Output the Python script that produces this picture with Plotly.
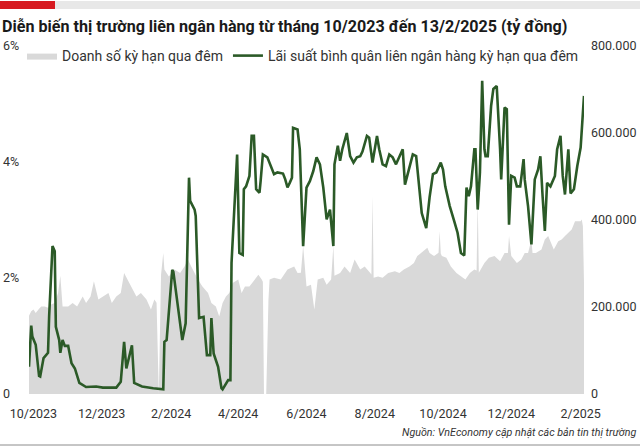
import plotly.graph_objects as go

# ---- Data ----
vol_dates = ["2023-09-27","2023-09-29","2023-10-01","2023-10-03","2023-10-06","2023-10-08","2023-10-11","2023-10-14",
    "2023-10-16","2023-10-20","2023-10-23","2023-10-25","2023-10-27","2023-11-01","2023-11-05","2023-11-09",
    "2023-11-14","2023-11-17","2023-11-21","2023-11-24","2023-11-28","2023-12-02","2023-12-07","2023-12-10",
    "2023-12-14","2023-12-18","2023-12-21","2023-12-24","2023-12-27","2024-01-01","2024-01-05","2024-01-10",
    "2024-01-14","2024-01-17","2024-01-19","2024-01-21","2024-01-23","2024-01-25","2024-01-26","2024-01-30",
    "2024-02-04","2024-02-09","2024-02-13","2024-02-16","2024-02-19","2024-02-22","2024-02-25","2024-02-29",
    "2024-03-05","2024-03-08","2024-03-12","2024-03-15","2024-03-18","2024-03-21","2024-03-24","2024-03-27",
    "2024-04-01","2024-04-04","2024-04-07","2024-04-11","2024-04-16","2024-04-19","2024-04-22","2024-04-23",
    "2024-04-24","2024-04-26","2024-04-28","2024-04-29","2024-05-03","2024-05-09","2024-05-15","2024-05-21",
    "2024-05-24","2024-05-27","2024-05-29","2024-06-01","2024-06-05","2024-06-08","2024-06-11","2024-06-16",
    "2024-06-19","2024-06-23","2024-06-25","2024-06-26","2024-07-01","2024-07-05","2024-07-10","2024-07-14",
    "2024-07-19","2024-07-23","2024-07-28","2024-07-29","2024-07-30","2024-07-31","2024-08-04","2024-08-08",
    "2024-08-13","2024-08-19","2024-08-23","2024-08-27","2024-09-01","2024-09-05","2024-09-08","2024-09-13",
    "2024-09-17","2024-09-19","2024-09-23","2024-09-27","2024-09-28","2024-09-29","2024-09-30","2024-10-04",
    "2024-10-08","2024-10-13","2024-10-17","2024-10-21","2024-10-25","2024-10-29","2024-10-31","2024-11-01",
    "2024-11-02","2024-11-07","2024-11-11","2024-11-16","2024-11-21","2024-11-25","2024-11-28","2024-11-29",
    "2024-12-01","2024-12-06","2024-12-10","2024-12-13","2024-12-16","2024-12-19","2024-12-20","2024-12-23",
    "2024-12-28","2024-12-31","2025-01-03","2025-01-08","2025-01-12","2025-01-15","2025-01-18","2025-01-21",
    "2025-01-24","2025-01-27","2025-02-01","2025-02-02","2025-02-03","2025-02-04"]
vol_values = [180000,190000,194000,186000,196000,201000,201000,198000,
    205000,209000,232000,272000,201000,201000,209000,201000,
    224000,209000,224000,259000,217000,224000,232000,209000,
    224000,232000,278000,263000,247000,224000,232000,217000,
    194000,217000,210000,0,274000,324000,286000,270000,
    286000,278000,293000,309000,293000,278000,263000,247000,
    232000,209000,201000,178000,209000,224000,232000,255000,
    263000,232000,247000,247000,263000,274000,263000,258000,
    0,0,217000,263000,267000,263000,286000,293000,
    278000,279000,340000,247000,251000,194000,263000,267000,
    251000,263000,340000,272000,278000,293000,278000,309000,
    286000,293000,278000,275000,455000,267000,270000,267000,
    278000,282000,278000,286000,293000,301000,317000,328000,
    336000,324000,317000,325000,374000,323000,317000,313000,
    293000,278000,270000,263000,278000,286000,284000,447000,
    279000,301000,313000,317000,305000,324000,324000,363000,
    317000,301000,309000,324000,324000,355000,324000,324000,
    332000,355000,363000,332000,351000,355000,363000,370000,
    378000,397000,397000,401000,386000,256000]

rate_dates = ["2023-09-27","2023-09-29","2023-09-30","2023-10-03","2023-10-06","2023-10-07","2023-10-10","2023-10-12",
    "2023-10-14","2023-10-15","2023-10-18","2023-10-20","2023-10-21","2023-10-24","2023-10-25","2023-10-27",
    "2023-10-29","2023-11-01","2023-11-04","2023-11-07","2023-11-11","2023-11-17","2023-11-26","2023-12-02",
    "2023-12-14","2023-12-18","2023-12-21","2023-12-23","2023-12-28","2023-12-30","2024-01-06","2024-01-16",
    "2024-01-25","2024-01-26","2024-01-28","2024-02-02","2024-02-03","2024-02-11","2024-02-14","2024-02-17",
    "2024-02-18","2024-02-22","2024-02-23","2024-02-26","2024-03-01","2024-03-04","2024-03-07","2024-03-08",
    "2024-03-10","2024-03-14","2024-03-17","2024-03-18","2024-03-23","2024-03-25","2024-03-26","2024-03-31",
    "2024-04-02","2024-04-05","2024-04-06","2024-04-08","2024-04-11","2024-04-13","2024-04-15","2024-04-17",
    "2024-04-20","2024-04-21","2024-04-23","2024-04-27","2024-04-30","2024-05-03","2024-05-06","2024-05-11",
    "2024-05-13","2024-05-15","2024-05-17","2024-05-19","2024-05-20","2024-05-24","2024-05-26","2024-05-29",
    "2024-06-01","2024-06-04","2024-06-07","2024-06-10","2024-06-13","2024-06-16","2024-06-19","2024-06-22",
    "2024-06-25","2024-06-26","2024-06-29","2024-07-01","2024-07-03","2024-07-07","2024-07-10","2024-07-13",
    "2024-07-16","2024-07-19","2024-07-21","2024-07-25","2024-07-27","2024-07-30","2024-08-03","2024-08-05",
    "2024-08-08","2024-08-11","2024-08-14","2024-08-17","2024-08-20","2024-08-23","2024-08-26","2024-08-28",
    "2024-09-01","2024-09-04","2024-09-07","2024-09-12","2024-09-16","2024-09-19","2024-09-22","2024-09-25",
    "2024-09-29","2024-10-01","2024-10-03","2024-10-07","2024-10-11","2024-10-14","2024-10-17","2024-10-20",
    "2024-10-22","2024-10-24","2024-10-26","2024-10-29","2024-10-30","2024-11-01","2024-11-03","2024-11-05",
    "2024-11-07","2024-11-08","2024-11-10","2024-11-13","2024-11-15","2024-11-18","2024-11-21","2024-11-22",
    "2024-11-25","2024-11-27","2024-11-29","2024-12-01","2024-12-04","2024-12-06","2024-12-09","2024-12-12",
    "2024-12-13","2024-12-16","2024-12-19","2024-12-22","2024-12-25","2024-12-27","2024-12-29","2024-12-31",
    "2025-01-02","2025-01-05","2025-01-09","2025-01-11","2025-01-14","2025-01-16","2025-01-18","2025-01-21",
    "2025-01-23","2025-01-26","2025-01-29","2025-02-01","2025-02-04"]
rate_values = [0.47,1.18,0.99,0.85,0.31,0.30,0.62,0.67,
    0.71,1.34,2.55,2.46,1.16,0.93,0.71,0.93,
    0.83,0.83,0.53,0.44,0.19,0.12,0.13,0.11,
    0.11,0.21,0.90,0.44,0.84,0.19,0.13,0.10,
    0.08,0.90,0.93,2.14,2.11,0.93,1.22,3.73,
    3.33,3.18,3.07,1.31,1.33,0.67,0.67,1.31,
    0.70,0.47,0.10,0.08,0.24,0.24,2.26,4.13,
    2.43,2.40,3.53,3.58,3.76,4.45,4.45,3.53,
    3.47,3.67,4.13,4.08,3.93,3.79,3.82,3.80,
    3.70,3.56,3.64,3.73,4.59,4.56,4.22,2.55,
    3.56,3.67,3.84,4.08,3.96,3.56,3.01,3.18,
    2.55,3.96,4.28,4.02,4.22,4.50,4.10,3.99,
    4.08,4.10,4.18,4.45,4.42,3.99,4.45,4.22,
    3.96,3.93,4.13,4.08,3.96,4.10,4.22,3.61,
    3.90,4.13,4.10,3.12,2.86,3.39,3.79,3.82,
    3.99,3.87,3.58,3.24,2.98,2.78,2.43,2.39,
    3.56,3.41,3.58,4.22,4.22,3.18,3.82,5.40,
    4.22,4.10,4.10,4.97,5.26,5.31,4.22,3.70,
    4.94,4.91,2.92,3.76,3.73,3.58,3.58,4.05,
    3.70,3.24,2.58,3.70,3.87,4.10,3.41,2.81,
    3.64,3.58,3.76,4.22,4.45,3.76,3.44,4.22,
    3.46,3.53,3.93,4.25,5.14]

x_tick_vals = ["2023-10-01","2023-12-01","2024-02-01","2024-04-01","2024-06-01","2024-08-01",
               "2024-10-01","2024-12-01","2025-02-01"]
x_tick_text = ["10/2023","12/2023","2/2024","4/2024","6/2024","8/2024","10/2024","12/2024","2/2025"]
rate_ticks = [0, 2, 4, 6]
rate_tick_text = ["0", "2%", "4%", "6%"]
vol_ticks = [0, 200000, 400000, 600000, 800000]
vol_tick_text = ["0", "200.000", "400.000", "600.000", "800.000"]

FONT = "Roboto"
TXT = "#333333"

fig = go.Figure()
fig.add_trace(go.Scatter(
    x=vol_dates, y=vol_values, name="Doanh số kỳ hạn qua đêm",
    mode="lines", fill="tozeroy", fillcolor="#d9d9d9",
    line=dict(color="#d9d9d9", width=0), yaxis="y", hoverinfo="skip"))
fig.add_trace(go.Scatter(
    x=rate_dates, y=rate_values, name="Lãi suất bình quân liên ngân hàng kỳ hạn qua đêm",
    mode="lines", line=dict(color="#2b5a27", width=2.6), yaxis="y2"))

L, T, R, B = 2, 46, 56, 52
W, H = 640, 446
pw, ph = W - L - R, H - T - B

def px(xp):
    return (xp - L) / pw

def py(yp):
    return (H - B - yp) / ph

fig.update_layout(
    width=W, height=H, autosize=False,
    margin=dict(l=L, r=R, t=T, b=B, pad=0, autoexpand=False),
    paper_bgcolor="white", plot_bgcolor="white",
    font=dict(family=FONT, color=TXT, size=12.5),
    title=dict(text="<b>Diễn biến thị trường liên ngân hàng từ tháng 10/2023 đến 13/2/2025 (tỷ đồng)</b>",
               font=dict(family=FONT, size=16.1, color="#1a1a1a"),
               x=2 / W, xanchor="left", xref="container",
               y=1 - 26 / H, yanchor="middle", yref="container"),
    showlegend=True,
    legend=dict(orientation="h", x=px(22), xanchor="left", y=py(56), yanchor="middle",
                bgcolor="rgba(0,0,0,0)", font=dict(size=14, color=TXT, family=FONT),
                traceorder="normal"),
    xaxis=dict(type="date", range=["2023-09-27", "2025-02-04"], domain=[px(29), 1],
               tickvals=x_tick_vals, ticktext=x_tick_text, showgrid=False, zeroline=False,
               showline=False, ticks="", ticklabelstandoff=10, automargin=False,
               tickfont=dict(size=12.5, color=TXT, family=FONT)),
    yaxis=dict(side="right", range=[0, 800000], tickvals=vol_ticks, ticktext=vol_tick_text,
               showgrid=False, zeroline=False, showline=False, ticks="", ticklabelstandoff=6,
               automargin=False, tickfont=dict(size=12.5, color=TXT, family=FONT)),
    yaxis2=dict(overlaying="y", side="right", anchor="free", position=0, range=[0, 6],
                tickvals=rate_ticks, ticktext=rate_tick_text, automargin=False,
                showgrid=False, zeroline=False, showline=False, ticks="", ticklabelstandoff=0,
                tickfont=dict(size=12.5, color=TXT, family=FONT)),
    shapes=[
        dict(type="rect", xref="paper", yref="paper", x0=px(0), x1=px(55), y0=py(9), y1=py(1),
             fillcolor="#d71a21", line=dict(width=0)),
        dict(type="rect", xref="paper", yref="paper", x0=px(55), x1=px(640), y0=py(9), y1=py(1),
             fillcolor="#e8e8e8", line=dict(width=0)),
        dict(type="line", xref="paper", yref="paper", x0=px(0), x1=px(640), y0=py(445), y1=py(445),
             line=dict(color="#8c8c8c", width=1)),
    ],
    annotations=[
        dict(text="<i>Nguồn: VnEconomy cập nhật các bản tin thị trường</i>", xref="paper", yref="paper",
             x=px(638), y=py(432), xanchor="right", yanchor="middle", showarrow=False,
             font=dict(size=10.7, color=TXT, family=FONT)),
    ],
)

fig.write_html("out.html", config={"displayModeBar": False},
               post_script="document.body.style.margin='0';")
